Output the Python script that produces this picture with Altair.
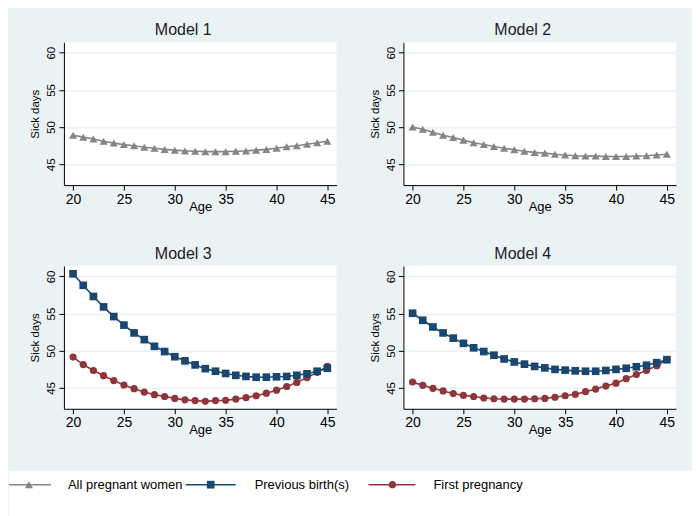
import altair as alt
import pandas as pd

AGES = list(range(20, 46))
SERIES = ["All pregnant women", "Previous birth(s)", "First pregnancy"]
COLORS = ["#858585", "#1a476f", "#90353b"]
SHAPES = ["triangle-up", "square", "circle"]
SIZES = [66, 52, 46]

M1_ALL = [48.9, 48.65, 48.4, 48.1, 47.85, 47.65, 47.5, 47.3, 47.15, 47.0, 46.9, 46.8, 46.75,
          46.7, 46.7, 46.7, 46.75, 46.8, 46.9, 47.0, 47.15, 47.35, 47.5, 47.7, 47.9, 48.1]
M2_ALL = [50.0, 49.7, 49.3, 48.9, 48.6, 48.25, 47.9, 47.65, 47.4, 47.15, 46.95, 46.75, 46.6,
          46.5, 46.35, 46.25, 46.15, 46.1, 46.1, 46.05, 46.05, 46.05, 46.1, 46.15, 46.25, 46.35]
M3_PREV = [60.35, 58.8, 57.3, 55.9, 54.6, 53.45, 52.4, 51.5, 50.6, 49.9, 49.2, 48.65, 48.1,
           47.6, 47.25, 46.95, 46.7, 46.55, 46.45, 46.45, 46.5, 46.55, 46.7, 46.9, 47.25, 47.65]
M3_FIRST = [49.15, 48.15, 47.35, 46.65, 46.0, 45.4, 44.9, 44.45, 44.1, 43.85, 43.6, 43.4, 43.3,
            43.2, 43.3, 43.35, 43.5, 43.7, 43.95, 44.3, 44.7, 45.2, 45.75, 46.4, 47.1, 47.9]
M4_PREV = [55.05, 54.1, 53.2, 52.4, 51.7, 51.0, 50.4, 49.9, 49.4, 48.9, 48.5, 48.2, 47.9,
           47.7, 47.5, 47.4, 47.3, 47.25, 47.25, 47.35, 47.5, 47.65, 47.85, 48.05, 48.4, 48.8]
M4_FIRST = [45.8, 45.35, 44.95, 44.6, 44.25, 44.0, 43.85, 43.65, 43.55, 43.5, 43.5, 43.5, 43.55,
            43.6, 43.75, 43.95, 44.15, 44.5, 44.85, 45.25, 45.65, 46.25, 46.8, 47.35, 48.0, 48.8]

X_TICKS = [20, 25, 30, 35, 40, 45]
Y_TICKS = [45, 50, 55, 60]

rows = []
def add(model, series, vals):
    for a, v in zip(AGES, vals):
        rows.append({"model": model, "series": series, "age": a, "days": v})

add("Model 1", SERIES[0], M1_ALL)
add("Model 2", SERIES[0], M2_ALL)
add("Model 3", SERIES[2], M3_FIRST)
add("Model 3", SERIES[1], M3_PREV)
add("Model 4", SERIES[2], M4_FIRST)
add("Model 4", SERIES[1], M4_PREV)
df = pd.DataFrame(rows)

FONT = "Liberation Sans"
W, H = 273, 143

color_scale = alt.Scale(domain=SERIES, range=COLORS)
shape_scale = alt.Scale(domain=SERIES, range=SHAPES)
size_scale = alt.Scale(domain=SERIES, range=SIZES)

x_axis = alt.Axis(values=X_TICKS, title="Age", grid=False, tickSize=5, labelPadding=2,
                  labelFontSize=14, titleFontSize=13, titlePadding=-6,
                  titleFontWeight="normal", domainColor="black", tickColor="black",
                  labelColor="black", titleColor="black", format="d")
y_axis = alt.Axis(values=Y_TICKS, title="Sick days", grid=True, gridColor="#eaf2f3",
                  gridWidth=1.5, tickSize=5, labelAngle=270, labelAlign="center",
                  labelBaseline="bottom", labelPadding=2, labelFontSize=11.5,
                  titleFontSize=11.5, titlePadding=5,
                  titleFontWeight="normal", domainColor="black", tickColor="black",
                  labelColor="black", titleColor="black", format="d")


def panel(model):
    d = df[df.model == model]
    base = alt.Chart(d).encode(
        x=alt.X("age:Q", scale=alt.Scale(domain=[19.1, 45.9], nice=False, zero=False), axis=x_axis),
        y=alt.Y("days:Q", scale=alt.Scale(domain=[42.2, 61.4], nice=False, zero=False), axis=y_axis),
        color=alt.Color("series:N", scale=color_scale, legend=None),
    )
    layers = []
    for s in [SERIES[2], SERIES[1], SERIES[0]]:
        if s not in set(d.series):
            continue
        b = base.transform_filter(alt.datum.series == s)
        layers.append(b.mark_line(strokeWidth=1.6))
        layers.append(b.mark_point(filled=True, opacity=1).encode(
            shape=alt.Shape("series:N", scale=shape_scale, legend=None),
            size=alt.Size("series:N", scale=size_scale, legend=None)))
    return alt.layer(*layers).properties(
        width=W, height=H,
        title=alt.TitleParams(model, fontSize=16, font=FONT, fontWeight="normal",
                              color="#1c1c28", anchor="middle", frame="bounds", offset=4))


row1 = alt.hconcat(panel("Model 1"), panel("Model 2"), spacing=33)
row2 = alt.hconcat(panel("Model 3"), panel("Model 4"), spacing=33)
grid = alt.vconcat(row1, row2, spacing=33)

# legend layout (pixel positions inside the legend strip, relative to the plot origin)
LEG_W, LEG_H, BLEED_L, BLEED_R = 610, 50, 55, 19
LEG_LINE_START = [-55, 122, 305]
LEG_LINE_END = [-13, 172, 352]
LEG_MARK = [-35, 147, 329]
LEG_TEXT = [4, 191, 370]
LEG_Y = 14
legend_df = pd.DataFrame({"series": SERIES, "x1": LEG_LINE_START, "x2": LEG_LINE_END,
                          "xm": LEG_MARK, "xt": LEG_TEXT})
strip = alt.Chart(pd.DataFrame({"k": [0]})).mark_rect(color="white").encode(
    x=alt.value(-BLEED_L), x2=alt.value(LEG_W + BLEED_R),
    y=alt.value(0), y2=alt.value(LEG_H))
lb = alt.Chart(legend_df).encode(color=alt.Color("series:N", scale=color_scale, legend=None))
leg_line = lb.mark_rule(strokeWidth=1.6).encode(
    x=alt.X("x1:Q", scale=None), x2="x2:Q", y=alt.value(LEG_Y))
leg_pt = lb.mark_point(filled=True, opacity=1).encode(
    x=alt.X("xm:Q", scale=None), y=alt.value(LEG_Y),
    shape=alt.Shape("series:N", scale=shape_scale, legend=None),
    size=alt.Size("series:N", scale=size_scale, legend=None))
leg_txt = alt.Chart(legend_df).mark_text(align="left", baseline="middle", fontSize=13,
                                         font=FONT, color="black").encode(
    x=alt.X("xt:Q", scale=None), y=alt.value(LEG_Y), text="series:N")
legend = alt.layer(strip, leg_line, leg_pt, leg_txt).properties(width=LEG_W, height=LEG_H)

chart = alt.vconcat(grid, legend, spacing=34).properties(
    background="#eaf2f3",
    padding={"top": 14, "left": 0, "right": 0, "bottom": 0},
).configure_view(stroke=None, fill="white").configure_axis(
    labelFont=FONT, titleFont=FONT
).configure_title(font=FONT)

chart.save("out.html", embed_options={"renderer": "svg", "actions": False})
